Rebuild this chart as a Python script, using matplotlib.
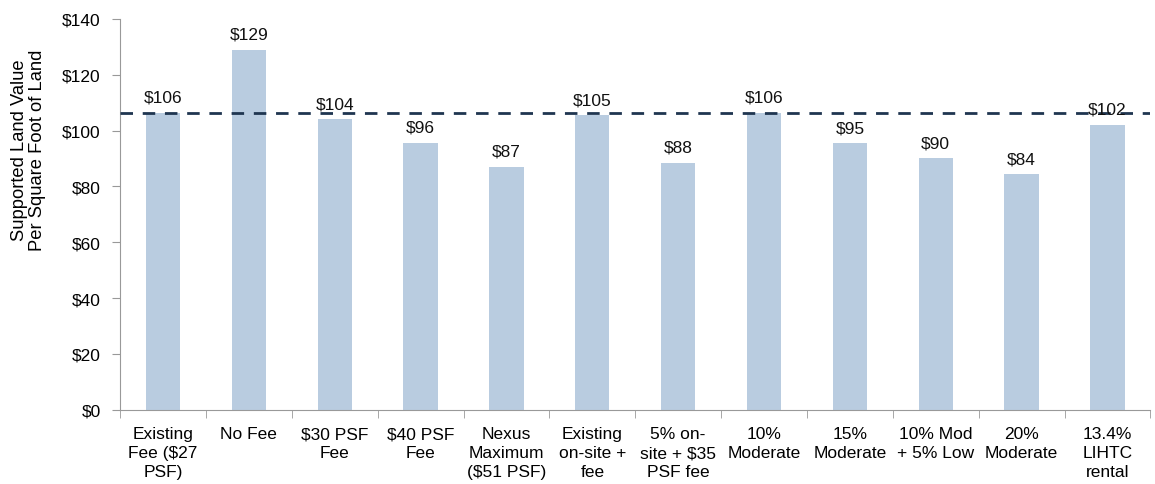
import matplotlib
matplotlib.use("Agg")
import matplotlib.pyplot as plt
import numpy as np

plt.rcParams['font.family'] = ['Liberation Sans', 'DejaVu Sans']

# data
categories = ["Existing\nFee ($27\nPSF)", "No Fee", "$30 PSF\nFee", "$40 PSF\nFee",
              "Nexus\nMaximum\n($51 PSF)", "Existing\non-site +\nfee", "5% on-\nsite + $35\nPSF fee",
              "10%\nModerate", "15%\nModerate", "10% Mod\n+ 5% Low", "20%\nModerate",
              "13.4%\nLIHTC\nrental"]
values = [106.2, 128.8, 104.0, 95.7, 86.9, 105.4, 88.4, 106.4, 95.4, 90.0, 84.3, 101.9]
labels = ["$106", "$129", "$104", "$96", "$87", "$105", "$88", "$106", "$95", "$90", "$84", "$102"]
baseline = 106.4

fig = plt.figure(figsize=(11.55, 4.85), dpi=100)
ax = fig.add_axes([0.104, 0.153, 0.892, 0.806])

x = np.arange(len(categories))
ax.bar(x, values, width=0.4, color="#B9CCE0", zorder=2)
for xi, v, lab in zip(x, values, labels):
    ax.text(xi, v + 3, lab, ha="center", va="bottom", fontsize=12.5, color="#111111", zorder=4)

ax.axhline(baseline, color="#1F3550", lw=2, ls=(0, (4.5, 3.5)), zorder=3)

ax.set_xlim(-0.5, len(categories) - 0.5)
ax.set_ylim(0, 140)
ax.set_yticks(np.arange(0, 141, 20))
ax.set_yticklabels(["$%d" % v for v in range(0, 141, 20)], fontsize=12.5)
ax.set_xticks(x)
ax.set_xticklabels(categories, fontsize=12.5, linespacing=1.3)
ax.set_xticks(np.arange(-0.5, len(categories), 1), minor=True)
ax.tick_params(axis="x", which="major", length=0, pad=12)
ax.tick_params(axis="x", which="minor", length=6, color="#999999", direction="out")
ax.tick_params(axis="y", length=6, color="#999999", pad=8)

for s in ["top", "right"]:
    ax.spines[s].set_visible(False)
for s in ["left", "bottom"]:
    ax.spines[s].set_color("#999999")

ax.set_ylabel("Supported Land Value\nPer Square Foot of Land", fontsize=13.2, linespacing=1.1)
ax.yaxis.set_label_coords(-0.072, 0.667)

fig.savefig("out.png", dpi=100)
